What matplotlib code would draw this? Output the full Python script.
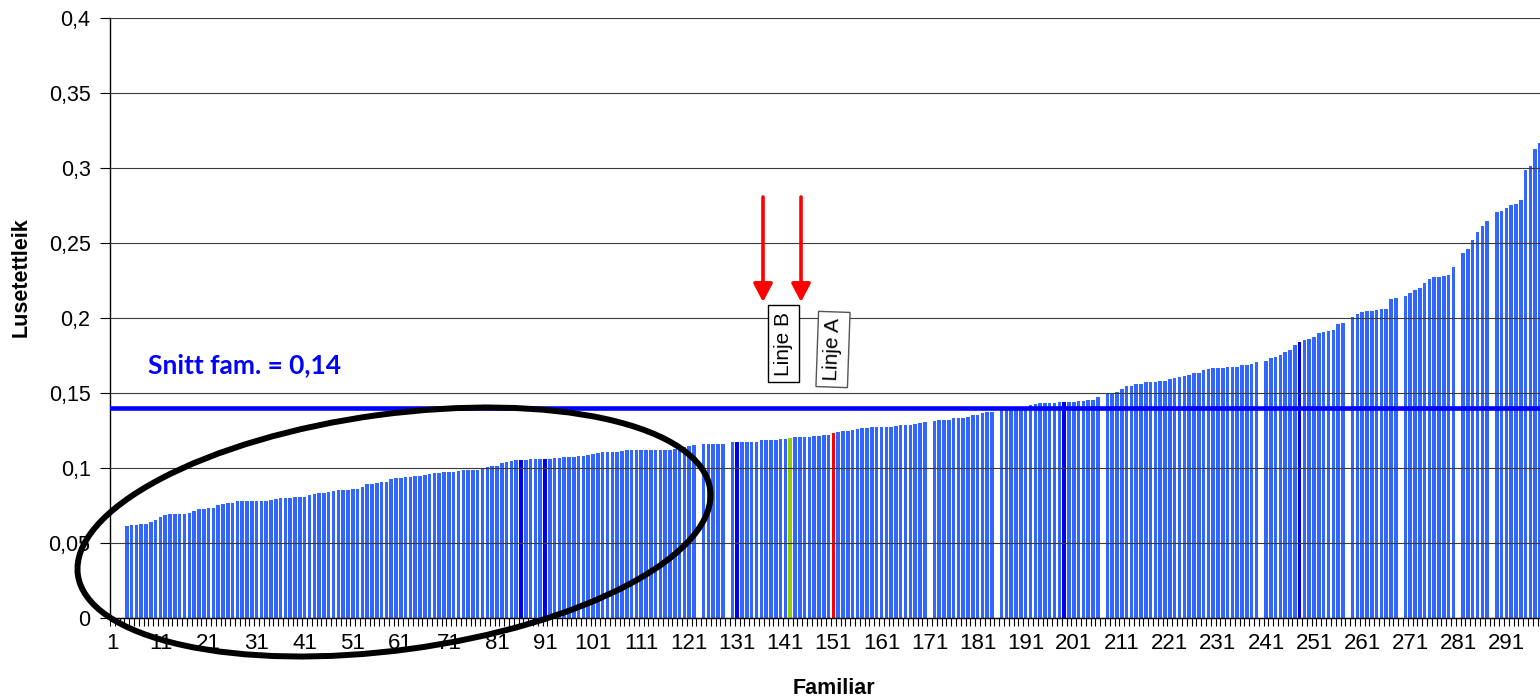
import matplotlib
matplotlib.use("Agg")
import matplotlib.pyplot as plt
from matplotlib.patches import Ellipse
import numpy as np

plt.rcParams['font.family'] = ['Liberation Sans', 'DejaVu Sans']

nan = np.nan

# Lusetettleik per familie, sortert (familie 1..298, nan = manglar)
lusetettleik = [
    nan, nan, nan, 0.0615, 0.0621, 0.0621, 0.0628, 0.0628, 0.0643, 0.0652,
    0.0675, 0.0684, 0.0691, 0.0691, 0.0691, 0.0691, 0.0698, 0.0716, 0.0724, 0.0724,
    0.0731, 0.0731, 0.0753, 0.0762, 0.0769, 0.0769, 0.0778, 0.0778, 0.0778, 0.0778,
    0.0778, 0.0778, 0.0778, 0.0784, 0.0791, 0.0800, 0.0800, 0.0800, 0.0809, 0.0809,
    0.0809, 0.0818, 0.0827, 0.0831, 0.0831, 0.0840, 0.0849, 0.0853, 0.0853, 0.0853,
    0.0862, 0.0862, 0.0876, 0.0893, 0.0893, 0.0902, 0.0909, 0.0909, 0.0924, 0.0931,
    0.0936, 0.0940, 0.0940, 0.0947, 0.0947, 0.0953, 0.0960, 0.0964, 0.0969, 0.0973,
    0.0973, 0.0973, 0.0982, 0.0987, 0.0987, 0.0987, 0.0987, 0.0991, 0.1009, 0.1016,
    0.1016, 0.1036, 0.1040, 0.1049, 0.1053, 0.1053, 0.1053, 0.1058, 0.1058, 0.1058,
    0.1058, 0.1060, 0.1067, 0.1067, 0.1073, 0.1073, 0.1076, 0.1080, 0.1080, 0.1087,
    0.1093, 0.1098, 0.1104, 0.1104, 0.1104, 0.1109, 0.1113, 0.1120, 0.1120, 0.1120,
    0.1120, 0.1120, 0.1120, 0.1120, 0.1120, 0.1120, 0.1120, 0.1124, 0.1138, 0.1142,
    0.1145, 0.1151, nan, 0.1160, 0.1160, 0.1160, 0.1160, 0.1160, nan, 0.1171,
    0.1171, 0.1171, 0.1171, 0.1171, 0.1176, 0.1187, 0.1187, 0.1187, 0.1187, 0.1196,
    0.1196, 0.1198, 0.1204, 0.1204, 0.1204, 0.1204, 0.1211, 0.1211, 0.1218, 0.1220,
    0.1231, 0.1238, 0.1244, 0.1244, 0.1253, 0.1260, 0.1267, 0.1267, 0.1273, 0.1273,
    0.1273, 0.1273, 0.1273, 0.1280, 0.1289, 0.1289, 0.1289, 0.1293, 0.1298, 0.1304,
    nan, 0.1313, 0.1320, 0.1320, 0.1320, 0.1333, 0.1333, 0.1333, 0.1342, 0.1351,
    0.1353, 0.1369, 0.1373, 0.1373, nan, 0.1390, 0.1393, 0.1396, 0.1400, 0.1405,
    0.1410, 0.1420, 0.1427, 0.1433, 0.1433, 0.1433, 0.1433, 0.1440, 0.1440, 0.1440,
    0.1440, 0.1447, 0.1447, 0.1453, 0.1453, 0.1471, nan, 0.1496, 0.1496, 0.1509,
    0.1527, 0.1549, 0.1549, 0.1558, 0.1558, 0.1571, 0.1571, 0.1576, 0.1582, 0.1582,
    0.1591, 0.1600, 0.1607, 0.1613, 0.1622, 0.1631, 0.1631, 0.1653, 0.1662, 0.1669,
    0.1669, 0.1669, 0.1676, 0.1676, 0.1676, 0.1684, 0.1684, 0.1693, 0.1709, nan,
    0.1716, 0.1731, 0.1738, 0.1753, 0.1776, 0.1787, 0.1818, 0.1842, 0.1851, 0.1862,
    0.1872, 0.1898, 0.1905, 0.1913, 0.1921, 0.1959, 0.1966, nan, 0.2005, 0.2029,
    0.2038, 0.2045, 0.2045, 0.2053, 0.2060, 0.2060, 0.2124, 0.2131, nan, 0.2147,
    0.2164, 0.2187, 0.2202, 0.2233, 0.2262, 0.2271, 0.2271, 0.2280, 0.2287, 0.2342,
    nan, 0.2433, 0.2458, 0.2520, 0.2573, 0.2613, 0.2644, nan, 0.2704, 0.2713,
    0.2731, 0.2753, 0.2760, 0.2787, 0.2987, 0.3016, 0.3127, 0.3164,
]
familie = np.arange(1, len(lusetettleik) + 1)

morkebla = [86, 91, 131, 199, 248]
linje_b = 142   # gronn
linje_a = 151   # raud
snitt = 0.14

yticks = [0, 0.05, 0.1, 0.15, 0.2, 0.25, 0.3, 0.35, 0.4]
ytick_labels = ["0", "0,05", "0,1", "0,15", "0,2", "0,25", "0,3", "0,35", "0,4"]
xtick_cats = familie[::10]

farger = []
for f in familie:
    if f in morkebla:
        farger.append("#0000F0")
    elif f == linje_b:
        farger.append("#99CC00")
    elif f == linje_a:
        farger.append("#FF0000")
    else:
        farger.append("#3366FF")

W, H = 1540, 698
fig = plt.figure(figsize=(W / 100, H / 100), dpi=100)
ax = fig.add_axes([110 / W, 80 / H, (W - 110) / W, 600 / H])

ax.bar(familie, lusetettleik, width=0.74, color=farger, linewidth=0, zorder=1)
ax.axhline(snitt, color="#0000FF", lw=3.3, zorder=4)

ax.set_xlim(0.5, 298.0)
ax.set_ylim(0, 0.4)
ax.set_yticks(yticks)
ax.set_yticklabels(ytick_labels)
ax.set_axisbelow(False)
ax.yaxis.grid(True, color="#3a3a3a", lw=0.8)

ax.set_xticks(np.arange(0.5, 298, 1))
ax.set_xticklabels([])
ax.set_xticks(xtick_cats, minor=True)
ax.set_xticklabels([str(c) for c in xtick_cats], minor=True)
ax.tick_params(axis="x", which="major", length=6, width=0.8, direction="out")
ax.tick_params(axis="x", which="minor", length=0, pad=11, labelsize=16)
ax.tick_params(axis="y", length=7, width=0.8, pad=7, labelsize=15.5)

for s in ["top", "right"]:
    ax.spines[s].set_visible(False)
for s in ["left", "bottom"]:
    ax.spines[s].set_linewidth(1.0)
    ax.spines[s].set_color("black")

# tekstar
fig.text(21 / W, 421 / H, "Lusetettleik", rotation=90, fontweight="bold",
         fontsize=15.5, ha="center", va="center")
fig.text(834 / W, 10 / H, "Familiar", fontweight="bold", fontsize=15.5,
         ha="center", va="center")
fig.text(148 / W, (H - 373) / H, "Snitt fam. = 0,14", color="#0000FF",
         fontweight="bold", fontsize=19, family=["Lato", "DejaVu Sans"],
         ha="left", va="baseline")

boks = dict(boxstyle="square,pad=0.3", fc="white", ec="black", lw=1)
fig.text(783.5 / W, (H - 343.5) / H, "Linje B", rotation=90, fontsize=15,
         ha="center", va="center", bbox=boks)
fig.text(833 / W, (H - 349.5) / H, "Linje A", rotation=88, fontsize=15,
         ha="center", va="center", bbox=dict(boks, ec="#555555"))

# piler
for px in [763, 801]:
    ax.annotate("", xy=(px, H - 302), xytext=(px, H - 197),
                xycoords="figure pixels", textcoords="figure pixels",
                arrowprops=dict(arrowstyle="-|>,head_length=11,head_width=5.8",
                                mutation_scale=1, color="#FF0000", lw=2.6,
                                shrinkA=0, shrinkB=0))

# ellipse rundt dei lage familiane
fig.add_artist(Ellipse((3.94, 1.66), 6.38, 2.36, angle=7.7,
                       transform=fig.dpi_scale_trans, fill=False,
                       ec="black", lw=4.3, zorder=5))

fig.savefig("out.png", dpi=100)
